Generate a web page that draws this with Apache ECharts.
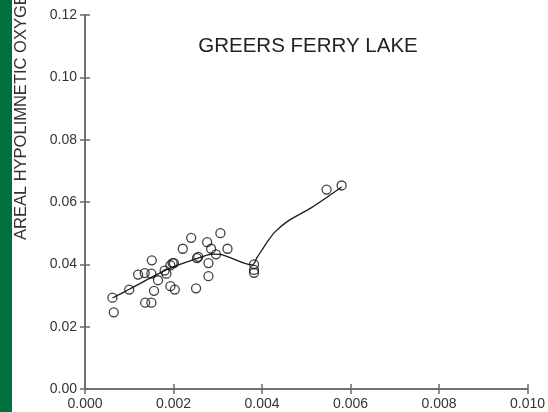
<!DOCTYPE html>
<html>
<head>
<meta charset="utf-8">
<script src="https://cdn.jsdelivr.net/npm/echarts@6/dist/echarts.min.js"></script>
<style>
html,body{margin:0;padding:0;background:#fff;}
#c{width:548px;height:412px;}
</style>
</head>
<body>
<div id="c"></div>
<script>
var title = "GREERS FERRY LAKE";
var yAxisTitle = "AREAL HYPOLIMNETIC OXYGEN DEFICIT";
var xTicks = [0, 0.002, 0.004, 0.006, 0.008, 0.010];
var yTicks = [0, 0.02, 0.04, 0.06, 0.08, 0.10, 0.12];

var obsX = [0.00062,0.00065,0.00100,0.00120,0.00135,0.00151,0.00150,0.00156,0.00136,0.00150,
            0.00165,0.00180,0.00184,0.00193,0.00198,0.00201,0.00193,0.00203,0.00221,0.00240,
            0.00253,0.00256,0.00251,0.00276,0.00285,0.00279,0.00279,0.00296,0.00306,0.00322,
            0.00382,0.00382,0.00382,0.00546,0.00580];
var obsY = [0.0293,0.0246,0.0319,0.0367,0.0372,0.0413,0.0370,0.0315,0.0277,0.0277,
            0.0349,0.0380,0.0370,0.0397,0.0404,0.0404,0.0330,0.0319,0.0450,0.0485,
            0.0420,0.0424,0.0323,0.0471,0.0450,0.0404,0.0362,0.0432,0.0500,0.0450,
            0.0400,0.0382,0.0373,0.0640,0.0653];

var fitX = [0.00062,0.00100,0.00146,0.00191,0.00254,0.00288,0.00305,0.00378,0.00389,0.00411,0.00430,0.00461,0.00512,0.00580];
var fitY = [0.0292,0.0320,0.0355,0.0387,0.0419,0.0433,0.0432,0.0398,0.0422,0.0470,0.0505,0.0541,0.0582,0.0648];

var obs = obsX.map(function(x,i){return [x, obsY[i]];});
var fit = fitX.map(function(x,i){return [x, fitY[i]];});

var axisColor = '#6a6a6a';
var labelStyle = {color:'#333', fontSize:14, fontFamily:'Liberation Sans, Arial, sans-serif'};

var chart = echarts.init(document.getElementById('c'), null, {renderer:'canvas'});
chart.setOption({
  animation:false,
  backgroundColor:'#fff',
  grid:{left:85, right:18, top:15, bottom:23, containLabel:false},
  graphic:[
    {type:'rect', shape:{x:0,y:0,width:12,height:412}, style:{fill:'#00703c'}, z:0},
    {type:'text', x:21, y:240, rotation:Math.PI/2,
     style:{text:yAxisTitle, fill:'#333', fontSize:16.5, fontFamily:'Liberation Sans, Arial, sans-serif',
            textAlign:'left', textVerticalAlign:'middle'}},
    {type:'text', x:308, y:46,
     style:{text:title, fill:'#222', fontSize:20.5, fontFamily:'Liberation Sans, Arial, sans-serif',
            textAlign:'center', textVerticalAlign:'middle'}}
  ],
  xAxis:[
    {type:'value', min:xTicks[0], max:xTicks[xTicks.length-1], interval:0.002, position:'bottom',
     axisLine:{show:true, lineStyle:{color:axisColor, width:1.5}},
     axisTick:{show:true, inside:true, length:5, lineStyle:{color:axisColor, width:1.5}},
     axisLabel:Object.assign({margin:8, formatter:function(v){return v.toFixed(3);}}, labelStyle),
     splitLine:{show:false}},
    {type:'value', min:xTicks[0], max:xTicks[xTicks.length-1], interval:0.002, position:'top',
     axisLine:{show:true, lineStyle:{color:axisColor, width:1.5}},
     axisTick:{show:true, inside:true, length:5, lineStyle:{color:axisColor, width:1.5}},
     axisLabel:{show:false}, splitLine:{show:false}}
  ],
  yAxis:[
    {type:'value', min:yTicks[0], max:yTicks[yTicks.length-1], interval:0.02, position:'left',
     axisLine:{show:true, lineStyle:{color:axisColor, width:1.5}},
     axisTick:{show:true, inside:true, length:5, lineStyle:{color:axisColor, width:1.5}},
     axisLabel:Object.assign({margin:8, formatter:function(v){return v.toFixed(2);}}, labelStyle),
     splitLine:{show:false}},
    {type:'value', min:yTicks[0], max:yTicks[yTicks.length-1], interval:0.02, position:'right',
     axisLine:{show:true, lineStyle:{color:axisColor, width:1.5}},
     axisTick:{show:true, inside:true, length:5, lineStyle:{color:axisColor, width:1.5}},
     axisLabel:{show:false}, splitLine:{show:false}}
  ],
  series:[
    {type:'line', data:fit, showSymbol:false, smooth:0.3, xAxisIndex:0, yAxisIndex:0,
     lineStyle:{color:'#1a1a1a', width:1.3}, z:2},
    {type:'scatter', data:obs, symbol:'circle', symbolSize:9, xAxisIndex:0, yAxisIndex:0,
     itemStyle:{color:'rgba(255,255,255,0)', borderColor:'#111', borderWidth:1.3}, z:3}
  ]
});
</script>
</body>
</html>
